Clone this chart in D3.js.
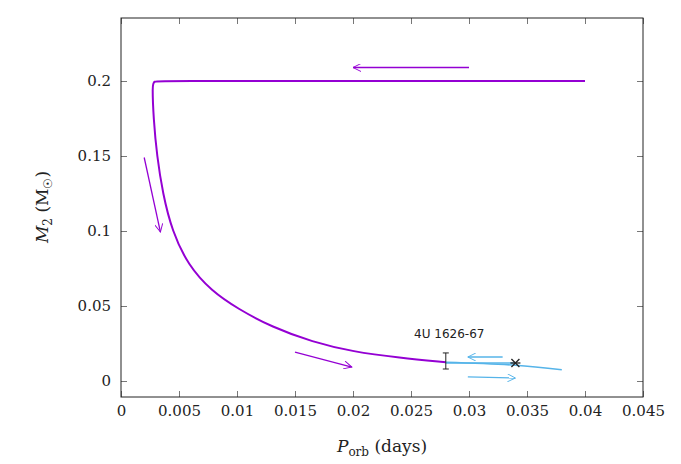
<!DOCTYPE html>
<html><head><meta charset="utf-8">
<script src="https://cdn.jsdelivr.net/npm/d3@7"></script>
<style>body{margin:0;background:#fff}</style></head>
<body><svg id="c" width="681" height="464"></svg>
<script>
// purple evolutionary track (Porb days, M2 Msun)
const trackP = [0.04, 0.02, 0.0035, 0.0028, 0.0027, 0.0028, 0.0031, 0.0036, 0.0044, 0.0058, 0.0078, 0.0101, 0.013, 0.0165, 0.02, 0.024, 0.028]
const trackM = [0.2, 0.2, 0.2, 0.2, 0.197, 0.175, 0.15, 0.125, 0.1, 0.077, 0.06, 0.048, 0.036, 0.026, 0.0195, 0.0155, 0.0125]
// blue continuation
const blueP = [0.028, 0.034, 0.038]
const blueM = [0.0125, 0.0105, 0.0075]
const blue2P = [0.028, 0.034]
const blue2M = [0.012, 0.012]
const purpleArrows = [[0.03, 0.209, 0.02, 0.209], [0.002, 0.149, 0.0034, 0.0993], [0.015, 0.0193, 0.0199, 0.0093]]
const blueArrows = [[0.0329, 0.016, 0.0299, 0.016], [0.0299, 0.0027, 0.034, 0.002]]
const obs = {p: 0.028, m: 0.0135, lo: 0.008, hi: 0.0187}
const star = {p: 0.034, m: 0.012}
const xTicks = [0, 0.005, 0.01, 0.015, 0.02, 0.025, 0.03, 0.035, 0.04, 0.045]
const yTicks = [0, 0.05, 0.1, 0.15, 0.2]

const purple = '#9400d3', blue = '#56b4e9'
const svg = d3.select('#c')
const L = 121, R = 643, T = 18, B = 397
const x = d3.scaleLinear().domain([0, 0.045]).range([L, R])
const y = d3.scaleLinear().domain([0, 0.2]).range([381, 81])
const serif = '"DejaVu Serif", "Liberation Serif", serif'

const defs = svg.append('defs')
function marker(id, col) {
  defs.append('marker').attr('id', id).attr('viewBox', '0 0 10 10').attr('refX', 10).attr('refY', 5)
      .attr('markerWidth', 10).attr('markerHeight', 8).attr('markerUnits', 'userSpaceOnUse').attr('orient', 'auto')
    .append('path').attr('d', 'M0,0 L10,5 L0,10').attr('fill', 'none').attr('stroke', col).attr('stroke-width', 1.2)
}
marker('ap', purple); marker('ab', blue)

const fmt = d => d === 0 ? '0' : String(+d.toFixed(3))
const ax = [
  svg.append('g').attr('transform', `translate(0,${B})`).call(d3.axisBottom(x).tickValues(xTicks).tickFormat(fmt).tickSizeInner(-6).tickSizeOuter(0).tickPadding(8)),
  svg.append('g').attr('transform', `translate(0,${T})`).call(d3.axisTop(x).tickValues(xTicks).tickFormat('').tickSizeInner(-6).tickSizeOuter(0)),
  svg.append('g').attr('transform', `translate(${L},0)`).call(d3.axisLeft(y).tickValues(yTicks).tickFormat(fmt).tickSizeInner(-6).tickSizeOuter(0).tickPadding(10)),
  svg.append('g').attr('transform', `translate(${R},0)`).call(d3.axisRight(y).tickValues(yTicks).tickFormat('').tickSizeInner(-6).tickSizeOuter(0)),
]
ax.forEach(g => { g.attr('font-family', null); g.select('.domain').remove(); g.selectAll('line').attr('stroke', '#777'); g.selectAll('text').style('font-family', serif).style('font-size', '15px').attr('fill', '#222') })
svg.append('rect').attr('x', L).attr('y', T).attr('width', R - L).attr('height', B - T).attr('fill', 'none').attr('stroke', '#222').attr('stroke-width', 1)

const line = d3.line().x(d => x(d[0])).y(d => y(d[1])).curve(d3.curveBasis)
svg.append('path').attr('d', line(d3.zip(trackP, trackM)))
  .attr('fill', 'none').attr('stroke', purple).attr('stroke-width', 2)
;[[blueP, blueM], [blue2P, blue2M]].forEach(([p, m]) =>
  svg.append('path').attr('d', d3.line().x(d => x(d[0])).y(d => y(d[1])).curve(d3.curveCatmullRom)(d3.zip(p, m)))
    .attr('fill', 'none').attr('stroke', blue).attr('stroke-width', 1.6))

purpleArrows.forEach(a => svg.append('line').attr('x1', x(a[0])).attr('y1', y(a[1])).attr('x2', x(a[2])).attr('y2', y(a[3]))
  .attr('stroke', purple).attr('stroke-width', 1.3).attr('marker-end', 'url(#ap)'))
blueArrows.forEach(a => svg.append('line').attr('x1', x(a[0])).attr('y1', y(a[1])).attr('x2', x(a[2])).attr('y2', y(a[3]))
  .attr('stroke', blue).attr('stroke-width', 1.3).attr('marker-end', 'url(#ab)'))

// error bar
const eb = svg.append('g').attr('stroke', '#222').attr('stroke-width', 1)
eb.append('line').attr('x1', x(obs.p)).attr('x2', x(obs.p)).attr('y1', y(obs.lo)).attr('y2', y(obs.hi))
;[obs.lo, obs.hi].forEach(v => eb.append('line').attr('x1', x(obs.p) - 3).attr('x2', x(obs.p) + 3).attr('y1', y(v)).attr('y2', y(v)))
// star
const sx = x(star.p), sy = y(star.m)
const st = svg.append('g').attr('stroke', '#222').attr('stroke-width', 1.3)
st.append('line').attr('x1', sx - 4).attr('x2', sx + 4).attr('y1', sy - 4).attr('y2', sy + 4)
st.append('line').attr('x1', sx - 4).attr('x2', sx + 4).attr('y1', sy + 4).attr('y2', sy - 4)
st.append('line').attr('x1', sx - 5).attr('x2', sx + 5).attr('y1', sy).attr('y2', sy)

svg.append('text').attr('x', x(0.0283)).attr('y', y(0.0285)).attr('text-anchor', 'middle')
  .attr('font-family', '"DejaVu Sans", sans-serif').attr('font-size', 12).attr('fill', '#222').text('4U 1626-67')

// axis titles
const xt = svg.append('text').attr('x', 382).attr('y', 452).attr('text-anchor', 'middle').attr('font-family', serif).attr('font-size', 17).attr('fill', '#222')
xt.append('tspan').attr('font-style', 'italic').text('P')
xt.append('tspan').attr('font-size', 12).attr('dy', 4).text('orb')
xt.append('tspan').attr('dy', -4).text(' (days)')
const yt = svg.append('text').attr('transform', 'translate(48,207) rotate(-90)').attr('text-anchor', 'middle').attr('font-family', serif).attr('font-size', 17).attr('fill', '#222')
yt.append('tspan').attr('font-style', 'italic').text('M')
yt.append('tspan').attr('font-size', 12).attr('dy', 4).text('2')
yt.append('tspan').attr('dy', -4).text(' (M')
yt.append('tspan').attr('font-size', 12).attr('dy', 4).text('☉')
yt.append('tspan').attr('dy', -4).text(')')
</script></body></html>
